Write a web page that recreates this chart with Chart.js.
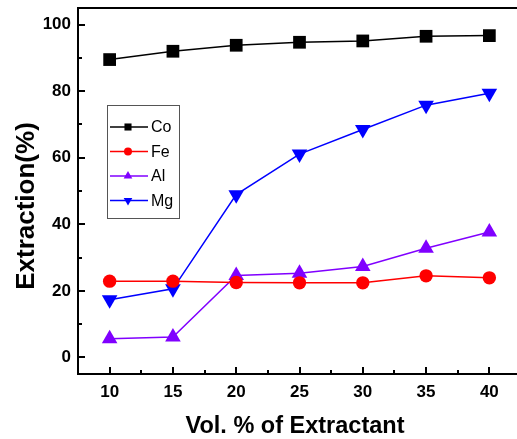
<!DOCTYPE html>
<html>
<head>
<meta charset="utf-8">
<script src="https://cdn.jsdelivr.net/npm/chart.js@4.4.0/dist/chart.umd.min.js"></script>
<style>
  html, body { margin: 0; padding: 0; background: #fff; overflow: hidden; }
  #wrap { position: relative; width: 523px; height: 439px; }
</style>
</head>
<body>
<div id="wrap"><canvas id="extractionChart"></canvas></div>
<script>
// Datos
const volumes = [10, 15, 20, 25, 30, 35, 40];
const coValues = [89.5, 92.0, 93.8, 94.7, 95.1, 96.5, 96.7];
const feValues = [22.9, 22.9, 22.5, 22.4, 22.4, 24.5, 23.9];
const alValues = [5.6, 6.1, 24.6, 25.3, 27.3, 32.8, 37.7];
const mgValues = [17.3, 20.6, 48.9, 61.1, 68.5, 75.8, 79.4];

const xMajorTicks = [10, 15, 20, 25, 30, 35, 40];
const xMinorTicks = [12.5, 17.5, 22.5, 27.5, 32.5, 37.5];
const yMajorTicks = [0, 20, 40, 60, 80, 100];
const yMinorTicks = [10, 30, 50, 70, 90];

const yTitle = 'Extraction(%)';
const xTitle = 'Vol. % of Extractant';

const tickFont = { family: "Arial, 'Liberation Sans', sans-serif", size: 17, weight: 'bold' };
const titleFamily = "Arial, 'Liberation Sans', sans-serif";

function toPoints(values) {
    return volumes.map((v, i) => ({ x: v, y: values[i] }));
}

// Quita el relleno automático que Chart.js reserva para las etiquetas
function fixScale(scale, size) {
    if (scale.isHorizontal()) {
        scale.height = size;
    } else {
        scale.width = size;
    }
    scale.paddingTop = 0;
    scale.paddingBottom = 0;
    scale.paddingLeft = 0;
    scale.paddingRight = 0;
}

/**
 * Marco superior/derecho, marcas hacia dentro, títulos y leyenda interna
 */
const framePlugin = {
    id: 'frame',
    afterDraw(chart) {
        const { ctx, chartArea, scales } = chart;
        const xs = scales.x;
        const ys = scales.y;
        ctx.save();
        ctx.strokeStyle = '#000';
        ctx.lineWidth = 2;
        ctx.beginPath();
        ctx.moveTo(chartArea.left, chartArea.top);
        ctx.lineTo(chartArea.right, chartArea.top);
        ctx.lineTo(chartArea.right, chartArea.bottom);
        ctx.stroke();

        // marcas (hacia dentro)
        ctx.beginPath();
        xMajorTicks.forEach(v => {
            const px = Math.round(xs.getPixelForValue(v));
            ctx.moveTo(px, chartArea.bottom);
            ctx.lineTo(px, chartArea.bottom - 7);
        });
        xMinorTicks.forEach(v => {
            const px = Math.round(xs.getPixelForValue(v));
            ctx.moveTo(px, chartArea.bottom);
            ctx.lineTo(px, chartArea.bottom - 4);
        });
        yMajorTicks.forEach(v => {
            const py = Math.round(ys.getPixelForValue(v));
            ctx.moveTo(chartArea.left, py);
            ctx.lineTo(chartArea.left + 7, py);
        });
        yMinorTicks.forEach(v => {
            const py = Math.round(ys.getPixelForValue(v));
            ctx.moveTo(chartArea.left, py);
            ctx.lineTo(chartArea.left + 4, py);
        });
        ctx.stroke();

        // títulos de los ejes
        ctx.fillStyle = '#000';
        ctx.textAlign = 'center';
        ctx.textBaseline = 'alphabetic';
        ctx.font = 'bold 23.5px ' + titleFamily;
        ctx.fillText(xTitle, 295, 433);

        ctx.save();
        ctx.translate(34, 206);
        ctx.rotate(-Math.PI / 2);
        ctx.font = 'bold 26px ' + titleFamily;
        ctx.fillText(yTitle, 0, 0);
        ctx.restore();

        // leyenda
        const boxX = 107.5, boxY = 105.5, boxW = 72, boxH = 113;
        ctx.fillStyle = '#fff';
        ctx.fillRect(boxX, boxY, boxW, boxH);
        ctx.strokeStyle = '#555';
        ctx.lineWidth = 1;
        ctx.strokeRect(boxX, boxY, boxW, boxH);
        chart.data.datasets.forEach((ds, i) => {
            const y = 127 + i * 24.5;
            ctx.strokeStyle = ds.borderColor;
            ctx.lineWidth = 1.5;
            ctx.beginPath();
            ctx.moveTo(110, y);
            ctx.lineTo(148, y);
            ctx.stroke();
            ctx.fillStyle = ds.backgroundColor;
            Chart.helpers.drawPoint(ctx, {
                pointStyle: ds.pointStyle,
                radius: ds.pointStyle === 'circle' ? 4 : 5,
                rotation: ds.pointRotation || 0
            }, 128, y);
            ctx.fillStyle = '#000';
            ctx.font = '16px ' + titleFamily;
            ctx.textBaseline = 'middle';
            ctx.textAlign = 'left';
            ctx.fillText(ds.label, 151, y + 1);
        });
        ctx.restore();
    }
};

function makeDataset(label, values, color, style, radius, rotation) {
    return {
        label: label,
        data: toPoints(values),
        borderColor: color,
        backgroundColor: color,
        borderWidth: 1.5,
        pointStyle: style,
        pointRadius: radius,
        pointHoverRadius: radius,
        pointRotation: rotation || 0,
        pointBorderWidth: 0,
        tension: 0
    };
}

new Chart(document.getElementById('extractionChart'), {
    type: 'line',
    data: {
        datasets: [
            makeDataset('Co', coValues, '#000000', 'rect', 9),
            makeDataset('Fe', feValues, '#ff0000', 'circle', 6.7),
            makeDataset('Al', alValues, '#8000ff', 'triangle', 9),
            makeDataset('Mg', mgValues, '#0000ff', 'triangle', 9, 180)
        ]
    },
    options: {
        responsive: true,
        maintainAspectRatio: false,
        animation: false,
        layout: { autoPadding: false, padding: { left: 8, top: 8, right: 2, bottom: 0 } },
        plugins: {
            legend: { display: false },
            tooltip: { enabled: false }
        },
        scales: {
            x: {
                type: 'linear',
                min: 7.5,
                max: 42.5,
                afterBuildTicks: scale => {
                    scale.ticks = xMajorTicks.map(v => ({ value: v }));
                },
                afterFit: scale => fixScale(scale, 65),
                grid: { display: false, drawTicks: false },
                border: { display: true, color: '#000', width: 2 },
                ticks: { color: '#000', font: tickFont, padding: 8, maxRotation: 0 },
                title: { display: false }
            },
            y: {
                min: -5,
                max: 105,
                afterBuildTicks: scale => {
                    scale.ticks = yMajorTicks.map(v => ({ value: v }));
                },
                afterFit: scale => fixScale(scale, 70),
                grid: { display: false, drawTicks: false },
                border: { display: true, color: '#000', width: 2 },
                ticks: { color: '#000', font: tickFont, padding: 7 },
                title: { display: false }
            }
        }
    },
    plugins: [framePlugin]
});
</script>
</body>
</html>
